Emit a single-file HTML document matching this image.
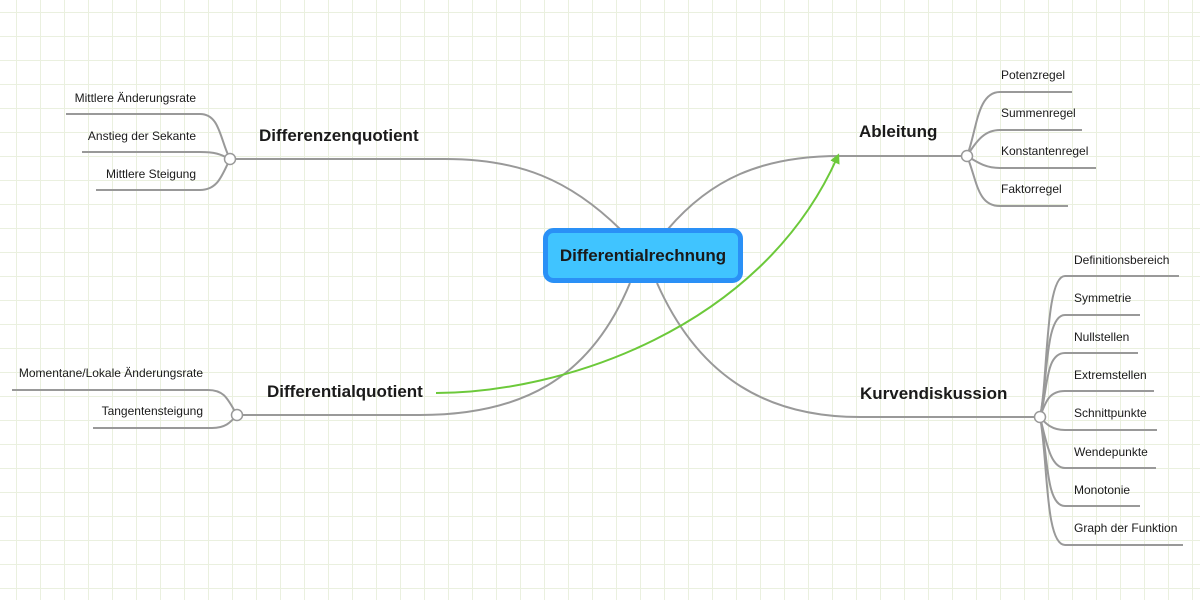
<!DOCTYPE html>
<html><head><meta charset="utf-8"><style>
html,body{margin:0;padding:0;width:1200px;height:600px;overflow:hidden;background:#fff}
svg{display:block}
text{font-family:"Liberation Sans",sans-serif;fill:#1a1a1a}
.s{font-size:12px}
.b{font-size:17px;font-weight:bold}
</style></head><body>
<svg width="1200" height="600" viewBox="0 0 1200 600" xmlns="http://www.w3.org/2000/svg">
<defs>
<pattern id="g" x="16" y="12" width="24" height="24" patternUnits="userSpaceOnUse">
<path d="M0 0H24M0 0V24" stroke="#eaf0df" stroke-width="2" fill="none"/>
</pattern>
<marker id="ah" markerWidth="10" markerHeight="10" refX="5" refY="5" orient="auto" markerUnits="userSpaceOnUse">
<path d="M0 0L10 5L0 10z" fill="#6cc93a"/>
</marker>
</defs>
<rect width="1200" height="600" fill="url(#g)"/>
<g fill="none" stroke="#999" stroke-width="2">
<path d="M620 229 C570 180, 520 159, 445 159 L230 159"/>
<path d="M668 229 C710 180, 760 156, 840 156 L967 156"/>
<path d="M630 283 C590 380, 520 415, 420 415 L237 415"/>
<path d="M657 283 C700 380, 770 417, 860 417 L1040 417"/>
<path d="M230 159 C220 140, 220 114, 200 114 L66 114"/>
<path d="M230 159 C220 154, 215 152, 200 152 L82 152"/>
<path d="M230 159 C222 175, 218 190, 200 190 L96 190"/>
<path d="M967 156 C977 130, 977 92, 1000 92 L1072 92"/>
<path d="M967 156 C977 140, 985 130, 1000 130 L1082 130"/>
<path d="M967 156 C977 162, 985 168, 1000 168 L1096 168"/>
<path d="M967 156 C977 180, 977 206, 1000 206 L1068 206"/>
<path d="M237 415 C228 400, 225 390, 208 390 L12 390"/>
<path d="M237 415 C230 423, 225 428, 212 428 L93 428"/>
<path d="M1040 417 C1048 380, 1045 276, 1065 276 L1179 276"/>
<path d="M1040 417 C1048 380, 1045 315, 1065 315 L1140 315"/>
<path d="M1040 417 C1048 390, 1045 353, 1065 353 L1138 353"/>
<path d="M1040 417 C1046 400, 1050 391, 1065 391 L1154 391"/>
<path d="M1040 417 C1046 424, 1052 430, 1065 430 L1157 430"/>
<path d="M1040 417 C1046 440, 1050 468, 1065 468 L1156 468"/>
<path d="M1040 417 C1048 450, 1045 506, 1065 506 L1140 506"/>
<path d="M1040 417 C1048 460, 1045 545, 1065 545 L1183 545"/>
</g>
<g fill="#fff" stroke="#999" stroke-width="1.5">
<circle cx="230" cy="159" r="5.5"/>
<circle cx="967" cy="156" r="5.5"/>
<circle cx="237" cy="415" r="5.5"/>
<circle cx="1040" cy="417" r="5.5"/>
</g>
<path d="M436 393 C560 393, 760 330, 837 158" fill="none" stroke="#6cc93a" stroke-width="2" marker-end="url(#ah)"/>
<rect x="545.5" y="230.5" width="195" height="50" rx="8" fill="#40c4ff" stroke="#2a90f6" stroke-width="5"/>
<text x="643" y="261" text-anchor="middle" style="font-size:17px;font-weight:bold">Differentialrechnung</text>
<text class="b" x="259" y="141">Differenzenquotient</text>
<text class="b" x="859" y="137">Ableitung</text>
<text class="b" x="267" y="397">Differentialquotient</text>
<text class="b" x="860" y="399">Kurvendiskussion</text>
<text class="s" x="196" y="102" text-anchor="end">Mittlere Änderungsrate</text>
<text class="s" x="196" y="140" text-anchor="end">Anstieg der Sekante</text>
<text class="s" x="196" y="178" text-anchor="end">Mittlere Steigung</text>
<text class="s" x="1001" y="79">Potenzregel</text>
<text class="s" x="1001" y="117">Summenregel</text>
<text class="s" x="1001" y="155">Konstantenregel</text>
<text class="s" x="1001" y="193">Faktorregel</text>
<text class="s" x="203" y="377" text-anchor="end">Momentane/Lokale Änderungsrate</text>
<text class="s" x="203" y="415" text-anchor="end">Tangentensteigung</text>
<text class="s" x="1074" y="264">Definitionsbereich</text>
<text class="s" x="1074" y="302">Symmetrie</text>
<text class="s" x="1074" y="341">Nullstellen</text>
<text class="s" x="1074" y="379">Extremstellen</text>
<text class="s" x="1074" y="417">Schnittpunkte</text>
<text class="s" x="1074" y="456">Wendepunkte</text>
<text class="s" x="1074" y="494">Monotonie</text>
<text class="s" x="1074" y="532">Graph der Funktion</text>
</svg>
</body></html>
